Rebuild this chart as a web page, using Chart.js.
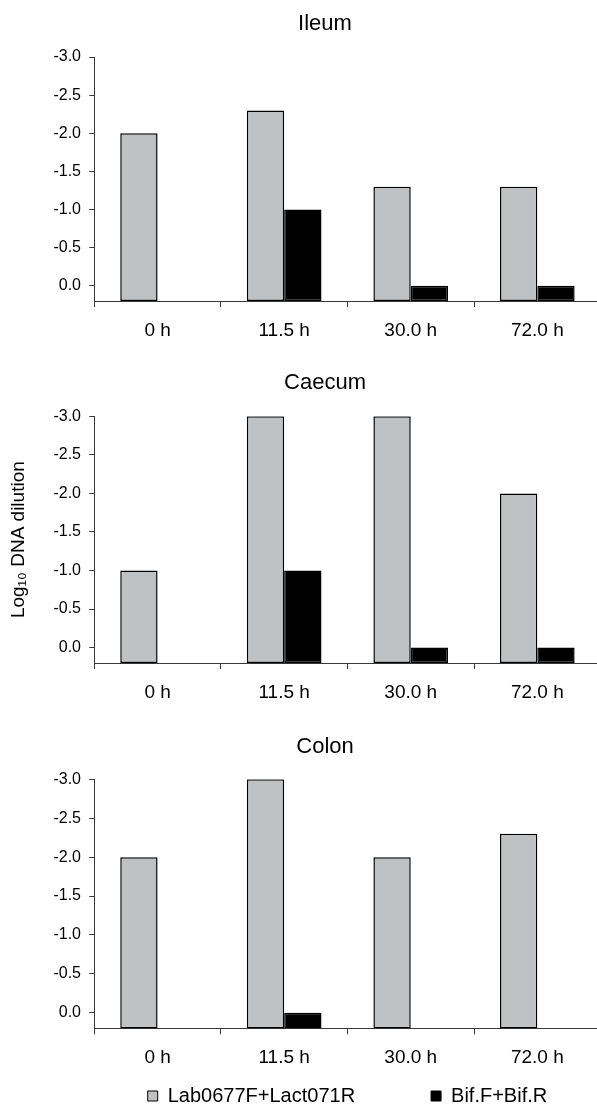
<!DOCTYPE html>
<html>
<head>
<meta charset="utf-8">
<script src="https://cdn.jsdelivr.net/npm/chart.js@4.4.1/dist/chart.umd.min.js"></script>
<style>
  html, body { margin: 0; padding: 0; background: #ffffff; overflow: hidden; width: 597px; height: 1104px; }
  canvas { position: absolute; left: 0; }
</style>
</head>
<body>
<canvas id="c1" width="650" height="355" style="top:0px"></canvas>
<canvas id="c2" width="650" height="370" style="top:347px"></canvas>
<canvas id="c3" width="650" height="407" style="top:709px"></canvas>
<script>
// ---- data ----
const categories = ['0 h', '11.5 h', '30.0 h', '72.0 h'];
const seriesNames = ['Lab0677F+Lact071R', 'Bif.F+Bif.R'];
const panelTitles = ['Ileum', 'Caecum', 'Colon'];
const yAxisTitle = 'Log\u2081\u2080 DNA dilution';
const yTickValues = [-3.0, -2.5, -2.0, -1.5, -1.0, -0.5, 0.0];

const ileumLab = [-2.0, -2.3, -1.3, -1.3];
const ileumBif = [null, -1.0, 0.0, 0.0];
const caecumLab = [-1.0, -3.0, -3.0, -2.0];
const caecumBif = [null, -1.0, 0.0, 0.0];
const colonLab = [-2.0, -3.0, -2.0, -2.3];
const colonBif = [null, 0.0, null, null];

// ---- styles ----
const FONT = "'Liberation Sans', Arial, Helvetica, sans-serif";
const AXIS = '#3a3a3a';
const GRAY = '#c0c1c3';

function makeChart(id, title, lab, bif, cfg) {
  const ctx = document.getElementById(id).getContext('2d');
  return new Chart(ctx, {
    type: 'bar',
    data: {
      labels: categories,
      datasets: [
        { label: seriesNames[0], data: lab, backgroundColor: GRAY, borderColor: '#000000', borderWidth: 1.5, base: 0.2,
          categoryPercentage: 0.59, barPercentage: 1.0, borderSkipped: false },
        { label: seriesNames[1], data: bif, backgroundColor: '#000000', borderColor: '#000000', borderWidth: 1.5, base: 0.2,
          categoryPercentage: 0.59, barPercentage: 1.0, borderSkipped: false }
      ]
    },
    options: {
      responsive: false,
      animation: false,
      devicePixelRatio: 1,
      layout: { padding: { left: 49.4, right: 49.4, top: 0, bottom: cfg.padBottom } },
      plugins: {
        tooltip: { enabled: false },
        title: {
          display: true, text: title, color: '#000',
          font: { family: FONT, size: 22, weight: 'normal', lineHeight: 1.2 },
          padding: { top: cfg.tTop, bottom: cfg.tBottom }
        },
        legend: {
          display: !!cfg.legend,
          position: 'bottom',
          fullSize: false,
          labels: {
            color: '#000',
            font: { family: FONT, size: 20 },
            boxWidth: 10, boxHeight: 10, padding: 4,
            generateLabels: function(chart) {
              const items = Chart.defaults.plugins.legend.labels.generateLabels(chart);
              const spacer = () => ({ text: '', fillStyle: 'rgba(0,0,0,0)', strokeStyle: 'rgba(0,0,0,0)', lineWidth: 0, hidden: false, datasetIndex: -1 });
              items.forEach(it => { it.lineWidth = 1; });
              return [items[0], spacer(), spacer(), spacer(), items[1]];
            }
          }
        }
      },
      scales: {
        x: {
          offset: true,
          grid: { display: true, drawOnChartArea: false, drawTicks: true, tickLength: 6, color: AXIS, lineWidth: 1 },
          border: { display: true, color: AXIS, width: 1 },
          ticks: { color: '#000', padding: 4, font: { family: FONT, size: 19, lineHeight: '39.6px' }, maxRotation: 0 }
        },
        y: {
          type: 'linear',
          reverse: true,
          min: -3.0,
          max: 0.2,
          afterBuildTicks: (s) => { s.ticks = yTickValues.map(v => ({ value: v })); },
          afterFit: (s) => { s.width = 44.9; },
          grid: { display: true, drawOnChartArea: false, drawTicks: true, tickLength: 5, color: AXIS, lineWidth: 1 },
          border: { display: true, color: AXIS, width: 1 },
          ticks: { color: '#000', padding: 8.3, font: { family: FONT, size: 16 }, callback: (v) => Number(v).toFixed(1) },
          title: {
            display: !!cfg.axisTitle, text: yAxisTitle, color: '#000',
            font: { family: FONT, size: 19 }, padding: { top: -42.4, bottom: 0 }
          }
        }
      }
    }
  });
}

makeChart('c1', panelTitles[0], ileumLab, ileumBif, { tTop: 10.8, tBottom: 19.8, padBottom: 0.4 });
makeChart('c2', panelTitles[1], caecumLab, caecumBif, { tTop: 22.8, tBottom: 20.1, padBottom: 0.4, axisTitle: true });
makeChart('c3', panelTitles[2], colonLab, colonBif, { tTop: 24.3, tBottom: 19.6, padBottom: 0, legend: true });
</script>
</body>
</html>
